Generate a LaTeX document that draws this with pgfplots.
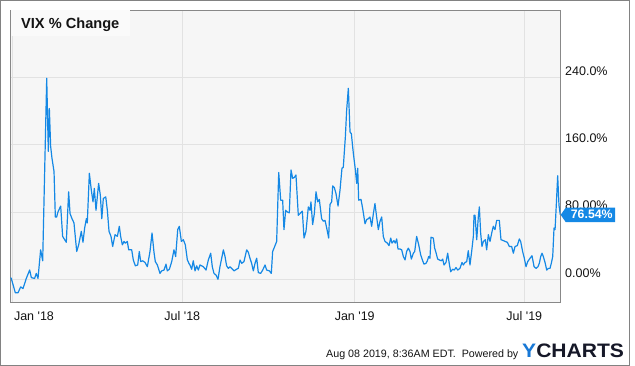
\documentclass[border=0pt]{standalone}
\usepackage{fontspec}
\setmainfont{Liberation Sans}
\usepackage{pgfplots}
\pgfplotsset{compat=1.18}
\definecolor{vixblue}{RGB}{20,136,229}
\definecolor{plotbg}{RGB}{246,246,246}
\definecolor{titlebg}{RGB}{250,250,250}
\definecolor{gridgray}{RGB}{226,226,226}
\definecolor{axisgray}{RGB}{136,136,136}
\definecolor{framegray}{RGB}{130,130,130}
\definecolor{ycblue}{RGB}{24,120,214}
\definecolor{ycdark}{RGB}{22,24,40}
\definecolor{txt}{RGB}{20,20,20}
\begin{document}
\begin{tikzpicture}[x=1pt,y=1pt]
\useasboundingbox (0,0) rectangle (635,366);
\fill[white] (0,0) rectangle (635,366);
\draw[color=framegray, line width=1pt] (0.5,0.5) rectangle (629.5,365.5);
\begin{axis}[
  at={(10.5pt,63.3pt)}, anchor=south west,
  scale only axis, width=549.8pt, height=292.7pt,
  xmin=-2.35, xmax=584.4, ymin=-27.8, ymax=320,
  axis background/.style={fill=plotbg},
  axis line style={draw=axisgray, line width=0.8pt},
  grid=major, major grid style={draw=gridgray, line width=0.8pt},
  major tick length=0pt,
  xtick={0,181,365,546},
  xticklabels={\makebox[0pt][l]{\hspace{1.3pt}Jan \textquotesingle18},Jul \textquotesingle18,Jan \textquotesingle19,Jul \textquotesingle19},
  ytick={0,80,160,240},
  yticklabels={0.00\%,80.00\%,160.0\%,240.0\%},
  yticklabel pos=right,
  y tick label style={anchor=base west, inner sep=0pt, xshift=4.7pt, yshift=2pt, font=\fontsize{12.5}{14}\selectfont, text=txt},
  x tick label style={anchor=north, inner sep=0pt, yshift=-9pt, font=\fontsize{12.5}{14}\selectfont, text=txt},
]
\addplot[vixblue, line width=1.2pt, line join=round] coordinates {
(-2.3,2) (-1.5,1) (2.8,-16) (5.7,-16) (8.5,-9) (11.0,-11) (14.5,1) (18.1,11) (19.9,2) (23.4,1)
(25.2,7) (27.0,1) (29.8,35) (32.0,22) (36.3,239) (38.0,152) (39.1,203) (40.5,158) (41.9,144) (44.1,128)
(45.5,74) (46.9,74) (48.3,80) (51.2,87) (53.3,51) (55.5,47) (57.2,44) (59.7,104) (61.2,78) (63.3,72)
(65.4,67) (68.3,33) (70.4,41) (73.2,57) (75.0,44) (76.8,61) (78.6,72) (79.6,67) (81.8,126) (83.9,106)
(85.7,92) (87.1,108) (88.9,82) (91.7,114) (93.5,100) (95.1,72) (96.7,96) (99.3,98) (101.0,82) (102.8,57)
(104.9,51) (106.7,39) (109.2,53) (111.7,51) (113.8,63) (115.2,51) (117.0,41) (118.8,45) (120.2,43) (122.3,45)
(123.8,35) (127.0,35) (128.7,23) (130.9,16) (133.4,17) (135.1,33) (136.6,21) (138.7,22) (141.2,20) (143.7,15)
(146.5,33) (148.7,55) (150.8,32) (152.2,21) (154.4,17) (157.2,7) (159.0,10) (161.5,11) (163.6,18) (165.0,10)
(167.2,12) (169.7,21) (172.1,35) (173.9,27) (176.1,59) (177.8,63) (180.0,45) (182.1,47) (184.2,41) (186.4,23)
(188.5,18) (189.2,17) (191.0,12) (192.7,22) (194.6,10) (196.3,16) (198.1,11) (199.9,17) (203.4,15) (206.3,11)
(208.8,23) (211.3,31) (213.0,15) (214.8,7) (217.0,5) (219.1,0) (221.2,15) (223.4,27) (224.8,35) (226.6,27)
(228.3,16) (230.1,13) (231.9,15) (233.7,13) (236.2,10) (239.0,12) (240.8,13) (242.6,23) (244.4,19) (246.8,21)
(249.7,35) (251.5,32) (253.2,25) (255.0,19) (256.8,10) (258.6,19) (260.4,25) (262.1,8) (264.6,7) (266.8,11)
(269.3,17) (271.0,11) (273.9,10) (276.0,7) (277.4,33) (278.9,37) (281.7,45) (283.9,127) (286.0,94) (288.1,94)
(289.5,59) (291.3,82) (293.1,80) (295.2,79) (297.0,130) (298.8,120) (300.6,121) (302.3,124) (304.8,76) (306.6,78)
(309.1,81) (310.9,49) (313.0,57) (315.5,86) (317.3,82) (318.3,92) (320.1,65) (321.9,78) (323.7,104) (325.5,92)
(327.2,95) (329.7,72) (331.5,69) (333.3,70) (335.1,61) (337.2,49) (338.6,89) (340.4,92) (341.5,111) (343.2,109)
(345.0,102) (347.2,87) (349.3,106) (351.4,132) (352.8,133) (355.0,169) (356.4,201) (358.2,227) (360.0,175) (361.4,173)
(363.5,150) (365.7,130) (367.1,114) (368.2,132) (369.2,94) (371.7,95) (373.5,84) (376.0,66) (377.8,71) (379.5,72)
(381.3,74) (383.1,63) (384.9,78) (386.6,90) (388.4,74) (390.2,59) (392.0,69) (393.8,74) (395.5,51) (397.3,45)
(399.8,43) (401.6,40) (403.4,49) (404.8,43) (406.9,46) (408.3,43) (409.8,48) (411.2,36) (413.3,36) (415.1,35)
(416.9,27) (418.7,23) (420.4,33) (422.2,37) (424.0,33) (425.4,24) (427.6,31) (429.0,33) (431.1,51) (433.3,41)
(435.4,29) (437.2,23) (438.9,18) (441.1,19) (442.5,22) (443.9,27) (445.3,25) (446.4,50) (448.9,49) (450.3,37)
(451.7,32) (453.5,24) (455.3,23) (457.4,22) (458.9,24) (460.3,17) (462.4,20) (464.2,31) (466.0,18) (467.4,9)
(469.5,12) (471.3,11) (473.1,14) (474.9,11) (477.3,13) (479.5,20) (480.9,17) (482.7,20) (484.5,21) (486.2,34)
(488.0,17) (489.8,33) (491.6,51) (492.3,76) (493.4,76) (495.2,47) (496.9,74) (498.0,86) (499.4,55) (500.8,39)
(502.3,45) (504.4,47) (505.8,35) (507.6,53) (509.4,45) (511.2,55) (512.9,63) (514.7,59) (516.5,70) (519.3,70)
(521.1,47) (523.6,46) (525.4,45) (527.9,44) (530.0,39) (532.5,39) (534.3,31) (536.1,39) (538.5,40) (540.7,48)
(542.1,45) (544.2,33) (546.0,25) (547.8,15) (549.6,21) (552.1,25) (554.2,28) (556.4,15) (558.5,13) (560.6,15)
(562.0,19) (563.5,27) (564.9,31) (566.3,27) (568.1,20) (569.9,11) (571.7,13) (573.4,13) (574.8,19) (576.3,27)
(577.7,61) (578.8,59) (580.2,90) (581.6,123) (583.0,88) (584.4,76.54)
};
\coordinate (lastpt) at (axis cs:584.4,76.54);
\end{axis}
% title box
\fill[titlebg] (11,355.5) rectangle (130,330);
\node[anchor=base west, inner sep=0pt, text=txt, font=\bfseries\fontsize{14.6}{16}\selectfont] at (21,337.7) {VIX \% Change};
% last value callout
\begin{scope}[shift={(lastpt)}]
\fill[vixblue] (0.4,0) -- (5.4,7.2) -- (54.7,7.2) -- (54.7,-7.2) -- (5.4,-7.2) -- cycle;
\node[anchor=base west, inner sep=0pt, text=white, font=\bfseries\fontsize{12.3}{14}\selectfont] at (10.4,-4.1) {76.54\%};
\end{scope}
% footer
\node[anchor=base west, inner sep=0pt, text=txt, font=\fontsize{10.7}{12}\selectfont] at (326,8.7) {Aug 08 2019, 8:36AM EDT.\ \ Powered by};
\node[anchor=base west, inner sep=0pt, xscale=1.08, font=\bfseries\fontsize{19.5}{20}\selectfont] at (522,8.7) {\textcolor{ycblue}{Y}\textcolor{ycdark}{CHARTS}};
\end{tikzpicture}
\end{document}
